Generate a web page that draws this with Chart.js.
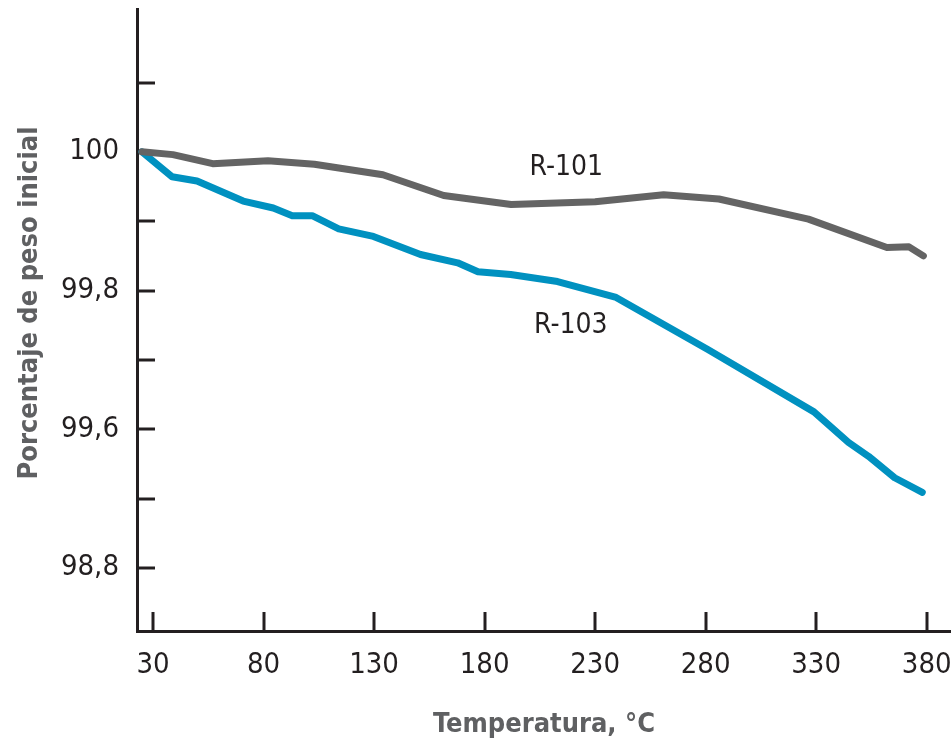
<!DOCTYPE html>
<html>
<head>
<meta charset="utf-8">
<script src="https://cdn.jsdelivr.net/npm/chart.js@4.4.1/dist/chart.umd.min.js"></script>
<style>
  html, body { margin: 0; padding: 0; background: #ffffff; }
  #c { display: block; }
</style>
</head>
<body>
<canvas id="c" width="951" height="744"></canvas>
<script>
// ---- data ----
const temps101 = [25, 39, 57, 82, 103, 134, 161.5, 192, 230, 261, 286, 326.5, 362, 372, 378.5];
const r101     = [100.0, 99.996, 99.983, 99.987, 99.982, 99.967, 99.937, 99.924, 99.928, 99.938, 99.932, 99.903, 99.862, 99.863, 99.850];
const temps103 = [25, 38.6, 49.9, 70.8, 84.4, 93, 102, 114, 129.7, 151, 167.8, 177, 191.8, 213, 239.5, 281, 329, 344.6, 353.7, 365.5, 378];
const r103     = [100.0, 99.964, 99.958, 99.929, 99.919, 99.908, 99.908, 99.889, 99.878, 99.852, 99.840, 99.827, 99.823, 99.813, 99.790, 99.715, 99.625, 99.581, 99.561, 99.530, 99.509];
const xTickValues = [30, 80, 130, 180, 230, 280, 330, 380];
const yTickValues = [99.4, 99.5, 99.6, 99.7, 99.8, 99.9, 100.0, 100.1];
const yTickLabels = ['98,8', '', '99,6', '', '99,8', '', '100', ''];
const seriesNames = ['R-101', 'R-103'];
const xTitle = 'Temperatura, °C';
const yTitle = 'Porcentaje de peso inicial';

const FONT = '"Liberation Sans Narrow", "DejaVu Sans Condensed", "Roboto", sans-serif';
const AXIS = '#231f20';
const TITLE_COLOR = '#5f6062';

const innerTicks = {
  id: 'innerTicks',
  beforeDatasetsDraw(chart) {
    const ctx = chart.ctx, xs = chart.scales.x, ys = chart.scales.y;
    const a = chart.chartArea;
    ctx.save();
    ctx.strokeStyle = AXIS;
    ctx.lineWidth = 3;
    xs.ticks.forEach(t => {
      const px = Math.round(xs.getPixelForValue(t.value));
      ctx.beginPath(); ctx.moveTo(px, a.bottom); ctx.lineTo(px, a.bottom - 19); ctx.stroke();
    });
    ys.ticks.forEach(t => {
      const py = Math.round(ys.getPixelForValue(t.value));
      ctx.beginPath(); ctx.moveTo(a.left, py); ctx.lineTo(a.left + 18, py); ctx.stroke();
    });
    ctx.restore();
  },
  afterDatasetsDraw(chart) {
    const ctx = chart.ctx, xs = chart.scales.x, ys = chart.scales.y;
    const a = chart.chartArea;
    const labels = [
      { text: seriesNames[0], x: 217, y: 99.977 },
      { text: seriesNames[1], x: 219, y: 99.749 }
    ];
    ctx.save();
    ctx.fillStyle = AXIS;
    ctx.font = '28px ' + FONT;
    ctx.textAlign = 'center';
    ctx.textBaseline = 'middle';
    labels.forEach(l => ctx.fillText(l.text, xs.getPixelForValue(l.x), ys.getPixelForValue(l.y)));
    // y-axis title, centred slightly above the middle of the axis as in the reference
    ctx.translate(30, (a.top + a.bottom) / 2 - 17);
    ctx.rotate(-Math.PI / 2);
    ctx.fillStyle = TITLE_COLOR;
    ctx.font = 'bold 27px ' + FONT;
    ctx.fillText(yTitle, 0, 0);
    ctx.restore();
  }
};

new Chart(document.getElementById('c'), {
  type: 'line',
  data: {
    datasets: [
      {
        label: seriesNames[0],
        data: temps101.map((t, i) => ({ x: t, y: r101[i] })),
        borderColor: '#646464',
        borderWidth: 7,
        borderCapStyle: 'round',
        borderJoinStyle: 'round',
        pointRadius: 0,
        tension: 0,
        fill: false
      },
      {
        label: seriesNames[1],
        data: temps103.map((t, i) => ({ x: t, y: r103[i] })),
        borderColor: '#0091c0',
        borderWidth: 7,
        borderCapStyle: 'round',
        borderJoinStyle: 'round',
        pointRadius: 0,
        tension: 0,
        fill: false
      }
    ]
  },
  options: {
    responsive: false,
    animation: false,
    events: [],
    layout: { padding: { left: 0, top: 9, right: 0, bottom: 0 } },
    plugins: { legend: { display: false }, tooltip: { enabled: false } },
    scales: {
      x: {
        type: 'linear',
        min: 22.75,
        max: 391,
        afterBuildTicks: s => { s.ticks = xTickValues.map(v => ({ value: v })); },
        afterFit: s => { s.height = 113; s.paddingLeft = 0; s.paddingRight = 0; },
        grid: { display: true, drawOnChartArea: false, drawTicks: false, color: 'transparent' },
        border: { display: true, color: AXIS, width: 3 },
        ticks: {
          autoSkip: false,
          maxRotation: 0,
          padding: 17,
          color: AXIS,
          font: { family: FONT, size: 29 },
          callback: v => String(v)
        },
        title: {
          display: true,
          text: xTitle,
          color: TITLE_COLOR,
          font: { family: FONT, size: 27, weight: 'bold' },
          padding: { top: 0, bottom: 3 }
        }
      },
      y: {
        type: 'linear',
        min: 99.309,
        max: 100.206,
        afterBuildTicks: s => { s.ticks = yTickValues.map(v => ({ value: v })); },
        afterFit: s => { s.width = 137; s.paddingTop = 0; s.paddingBottom = 0; },
        grid: { display: true, drawOnChartArea: false, drawTicks: false, color: 'transparent' },
        border: { display: true, color: AXIS, width: 3 },
        ticks: {
          autoSkip: false,
          padding: 18,
          color: AXIS,
          font: { family: FONT, size: 29 },
          callback: function (v) {
            const i = yTickValues.findIndex(t => Math.abs(t - v) < 1e-6);
            return i >= 0 ? yTickLabels[i] : '';
          }
        },
        title: { display: false }
      }
    }
  },
  plugins: [innerTicks]
});
</script>
</body>
</html>
